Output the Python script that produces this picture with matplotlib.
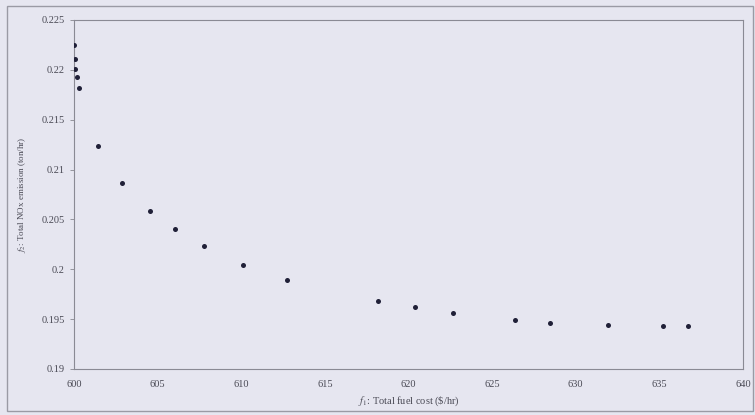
import matplotlib
matplotlib.use("Agg")
import matplotlib.pyplot as plt
from matplotlib.patches import Rectangle

fuel_cost = [600.0, 600.04, 600.04, 600.18, 600.28, 601.43, 602.87, 604.54, 606.04,
             607.77, 610.10, 612.75, 618.16, 620.37, 622.68, 626.37, 628.46, 631.93,
             635.22, 636.71]
nox = [0.2225, 0.2211, 0.2201, 0.2193, 0.2182, 0.2124, 0.2087, 0.2058, 0.2040,
       0.2023, 0.2004, 0.1989, 0.1968, 0.1962, 0.1956, 0.1949, 0.1946, 0.1944,
       0.1943, 0.1943]
x_ticks = [600, 605, 610, 615, 620, 625, 630, 635, 640]
y_ticks = [0.19, 0.195, 0.2, 0.205, 0.21, 0.215, 0.22, 0.225]
y_tick_labels = ["0.19", "0.195", "0.2", "0.205", "0.21", "0.215", "0.22", "0.225"]

bg = "#e6e6f0"
txt = "#4a4a55"
plt.rcParams["font.family"] = ["Liberation Serif", "DejaVu Serif"]
plt.rcParams["mathtext.fontset"] = "stix"

fig = plt.figure(figsize=(7.55, 4.15), dpi=100, facecolor=bg)
fig.patches.append(Rectangle((7/755, 4/415), 746/755, 405/415, transform=fig.transFigure,
                             fill=False, edgecolor="#9a9aa4", linewidth=1.0))
ax = fig.add_axes([74/755, 46/415, 669/755, 349/415])
ax.set_facecolor(bg)
ax.scatter(fuel_cost, nox, s=13, color="#202038", zorder=3, linewidths=0)
ax.set_xlim(600, 640)
ax.set_ylim(0.19, 0.225)
ax.set_xticks(x_ticks)
ax.set_xticklabels([str(t) for t in x_ticks])
ax.set_yticks(y_ticks)
ax.set_yticklabels(y_tick_labels)
ax.tick_params(axis="both", labelsize=7.5, colors="#888890", labelcolor=txt, length=3, width=0.6)
ax.tick_params(axis="x", length=0, pad=8)
for s in ax.spines.values():
    s.set_color("#8a8a94")
    s.set_linewidth(0.8)
ax.set_xlabel(r"$f_1$: Total fuel cost (\$/hr)", fontsize=7.5, color=txt, labelpad=4)
ax.set_ylabel(r"$f_2$: Total NOx emission (ton/hr)", fontsize=6.5, color=txt, labelpad=10)
fig.savefig("out.png", dpi=100, facecolor=bg)
